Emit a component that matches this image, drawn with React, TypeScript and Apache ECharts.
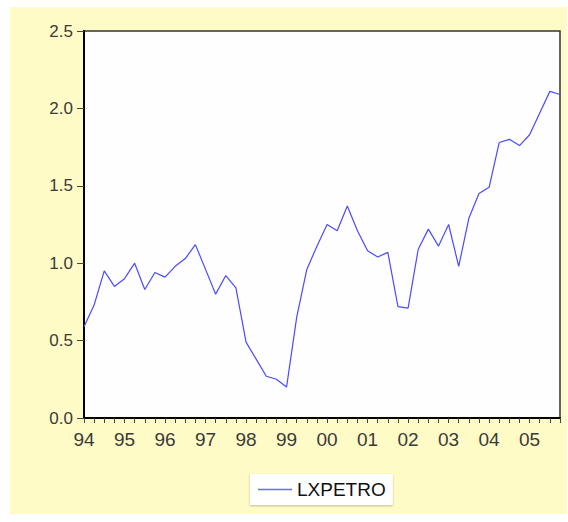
import React, { useEffect, useRef } from "react";
import * as echarts from "echarts";

const years = ["94", "95", "96", "97", "98", "99", "00", "01", "02", "03", "04", "05"];
const quarters = ["Q1", "Q2", "Q3", "Q4"];
const categories: string[] = [];
years.forEach((y) => quarters.forEach((q) => categories.push(y + q)));

const lxpetro = [
  0.59, 0.73, 0.95, 0.85, 0.9, 1.0, 0.83, 0.94, 0.91, 0.98, 1.03, 1.12,
  0.96, 0.8, 0.92, 0.84, 0.49, 0.38, 0.27, 0.25, 0.2, 0.65, 0.96, 1.11,
  1.25, 1.21, 1.37, 1.21, 1.08, 1.04, 1.07, 0.72, 0.71, 1.09, 1.22, 1.11,
  1.25, 0.98, 1.29, 1.45, 1.49, 1.78, 1.8, 1.76, 1.83, 1.97, 2.11, 2.09,
];

const yTicks = { min: 0, max: 2.5, interval: 0.5 };

export default function App() {
  const ref = useRef<HTMLDivElement>(null);
  useEffect(() => {
    if (!ref.current) return;
    const chart = echarts.init(ref.current, undefined, { renderer: "svg" });
    const font = "'Liberation Sans', Arial, sans-serif";
    chart.setOption({
      animation: false,
      backgroundColor: "#ffffff",
      graphic: [
        {
          type: "rect",
          z: -10,
          silent: true,
          shape: { x: 10, y: 7, width: 557, height: 507 },
          style: { fill: "#fffbc6" },
        },
      ],
      grid: {
        left: 84,
        top: 31,
        right: 8,
        bottom: 104,
        show: true,
        backgroundColor: "#fefefe",
        borderColor: "#333",
        borderWidth: 1.5,
      },
      legend: {
        left: 250,
        top: 474,
        icon: "rect",
        itemWidth: 34,
        itemHeight: 1.5,
        itemGap: 8,
        padding: [6, 7, 6, 8],
        backgroundColor: "#ffffff",
        shadowColor: "rgba(0,0,0,0.25)",
        shadowBlur: 2,
        shadowOffsetY: 1,
        itemStyle: { color: "#6a6aff" },
        textStyle: { fontFamily: font, fontSize: 19, color: "#111" },
        data: ["LXPETRO"],
      },
      xAxis: {
        type: "category",
        data: categories,
        boundaryGap: false,
        axisLine: { lineStyle: { color: "#000", width: 2 } },
        axisTick: {
          interval: 0,
          length: 5,
          lineStyle: { color: "#444", width: 1 },
        },
        axisLabel: {
          interval: 3,
          margin: 12,
          fontFamily: font,
          fontSize: 19,
          color: "#3a3a3a",
          formatter: (v: string) => v.slice(0, 2),
        },
        splitLine: { show: false },
      },
      yAxis: {
        type: "value",
        min: yTicks.min,
        max: yTicks.max,
        interval: yTicks.interval,
        axisLine: { show: true, lineStyle: { color: "#000", width: 2 } },
        axisTick: { show: true, length: 7, lineStyle: { color: "#444" } },
        axisLabel: {
          margin: 11,
          fontFamily: font,
          fontSize: 17,
          color: "#3a3a3a",
          formatter: (v: number) => v.toFixed(1),
        },
        splitLine: { show: false },
      },
      series: [
        {
          name: "LXPETRO",
          type: "line",
          data: lxpetro,
          symbol: "none",
          lineStyle: { color: "#4a4aff", width: 1.2 },
          itemStyle: { color: "#4a4aff" },
        },
      ],
    });
    return () => chart.dispose();
  }, []);
  return (
    <div
      ref={ref}
      style={{ position: "absolute", left: 0, top: 0, width: 568, height: 522 }}
    />
  );
}
